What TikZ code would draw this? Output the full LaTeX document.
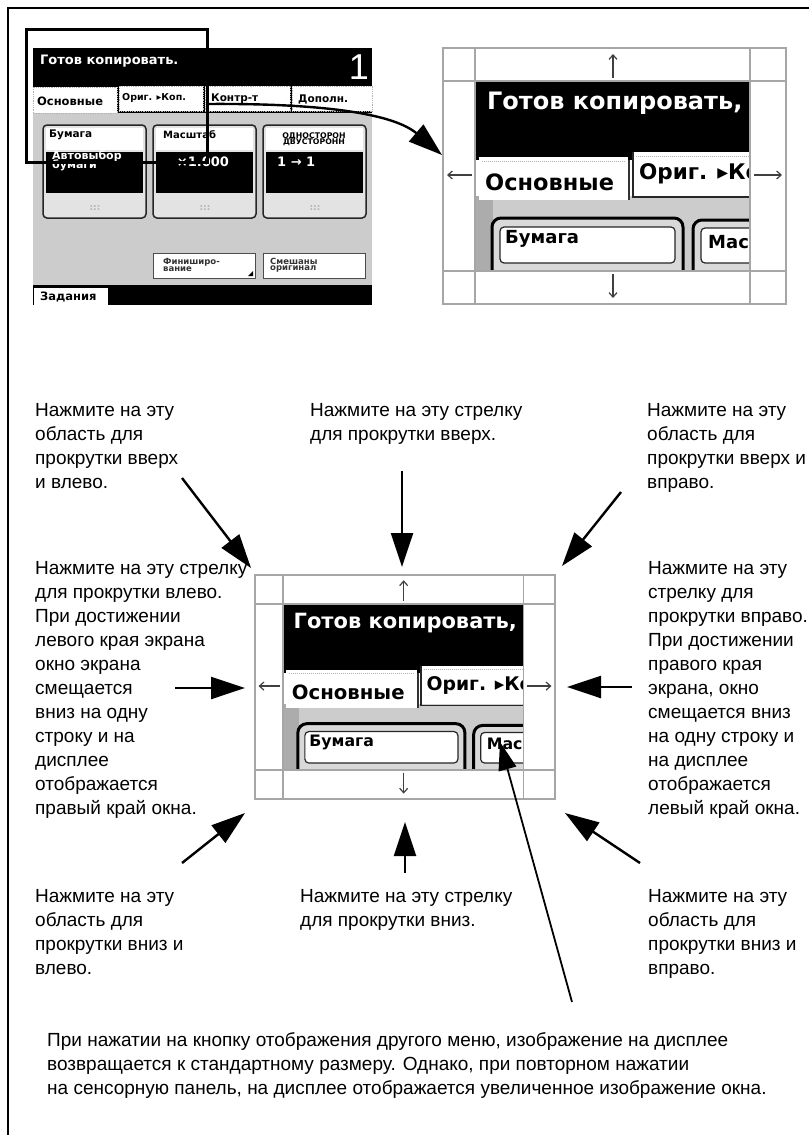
\documentclass[tikz,border=0pt]{standalone}
\usepackage{fontspec}
\setmainfont{Liberation Sans}
\newfontfamily\scrfont{DejaVu Sans}
\usetikzlibrary{arrows.meta}
\newcommand\scrsize[1]{\scrfont\bfseries\fontsize{#1}{#1}\selectfont}
\tikzset{
  ptr/.style={line width=2.4pt, -{Triangle[length=34pt,width=22pt]}},
  lbl/.style={anchor=base west, align=left, inner sep=0pt, font=\fontsize{19}{24}\selectfont},
  gridline/.style={draw=gray!70, line width=1.3pt},
  thinarr/.style={draw=black!75, line width=1.2pt, -{Straight Barb[length=4.5pt,width=8pt]}},
  scr/.style={inner sep=0pt, anchor=west},
  dotline/.style={draw=gray!60, densely dotted, line width=1pt},
  tabbox/.style={fill=white, draw=gray!60, densely dotted, line width=0.8pt},
  panel/.style={draw=black!85, line width=1.5pt, rounded corners=4pt, fill=gray!22},
  btn/.style={fill=white, draw=black!70, line width=1pt},
}
% enlarged window view, local coordinates 343 x 256
\newcommand\zoomview[1]{%
  \fill[white] (0,0) rectangle (343,256);
  \begin{scope}
    \clip (32,33) rectangle (307,223);
    \fill[black] (32,33) rectangle (307,112);
    \fill[gray!40] (32,148) rectangle (307,223);
    \fill[gray!65] (32,148) rectangle (50,223);
    \fill[white] (190,104) rectangle (310,148);
    \draw[dotline] (193,108) -- (310,108);
    \draw[black!85, line width=1.6pt] (190,104) -- (190,149) -- (310,149);
    \node[scr, font=\scrsize{21.5}] (#1-tab2) at (196,126) {Ориг. ▸Коп.};
    \fill[white] (36,109) rectangle (185,152);
    \draw[dotline] (39,113) -- (182,113);
    \draw[black!80, line width=2.2pt] (186,112) -- (186,152);
    \node[scr, font=\scrsize{22.5}] (#1-tab1) at (42,134) {Основные};
    \draw[black, line width=3pt, rounded corners=9pt, fill=gray!30] (49,170) rectangle (240,260);
    \draw[black!85, line width=1.2pt, rounded corners=4pt, fill=white] (57,179) rectangle (232,215);
    \node[scr, font=\scrsize{18}] (#1-p1) at (62,191) {Бумага};
    \draw[black, line width=3pt, rounded corners=9pt, fill=gray!30] (250,172) rectangle (340,260);
    \draw[black!85, line width=1.2pt, rounded corners=4pt, fill=white] (258,180) rectangle (335,215);
    \node[scr, font=\scrsize{18}] (#1-p2) at (265,193) {Масштаб};
    \node[scr, white, font=\scrsize{24}] (#1-hdr) at (44,55) {Готов копировать,};
  \end{scope}
  \draw[gridline] (0,0) rectangle (343,256);
  \draw[gridline] (32,0) -- (32,256) (307,0) -- (307,256) (0,33) -- (343,33) (0,223) -- (343,223);
  \draw[thinarr] (170,30) -- (170,6);
  \draw[thinarr] (170,226) -- (170,250);
  \draw[thinarr] (29,127) -- (4,127);
  \draw[thinarr] (311,127) -- (339,127);
}
\begin{document}
\begin{tikzpicture}[x=1pt, y=-1pt]
\useasboundingbox (0,0) rectangle (809,1135);
% frame
\draw[line width=2.5pt] (809,8) -- (8,8) -- (8,1135);

% ---- screenshot of the panel ----
\fill[gray!40] (33,48) rectangle (372,305);
\fill[black] (33,48) rectangle (372,113);
\node[scr, white, font=\scrsize{13}] (s-hdr) at (40,61) {Готов копировать.};
\node[inner sep=0pt, white, font=\fontsize{36}{36}\selectfont] (s-one) at (359,67) {1};
\draw[tabbox] (33,87) rectangle (117,113);
\node[scr, font=\scrsize{11.5}] (s-tab1) at (37,101) {Основные};
\draw[tabbox] (119,86) rectangle (203,111);
\node[scr, font=\scrsize{9.5}] (s-tab2) at (122,98) {Ориг. ▸Коп.};
\draw[tabbox] (205,86) rectangle (290,111);
\node[scr, font=\scrsize{10.5}] (s-tab3) at (211,99) {Контр-т};
\draw[tabbox] (292,86) rectangle (372,111);
\node[scr, font=\scrsize{10.5}] (s-tab4) at (298,99) {Дополн.};
\foreach \x/\n in {43/a,153/b,263/c} {
  \draw[panel] (\x,125) rectangle ++(103,93);
  \fill[white] (\x+3,128) rectangle ++(97,22);
  \fill[black] (\x+3,152) rectangle ++(97,41);
  \node[gray!60, font=\scrsize{9}] (s-dots-\n) at (\x+52,208) {:::};
}
\node[scr, font=\scrsize{10.5}] (s-p1) at (49,135) {Бумага};
\node[scr, font=\scrsize{10}] (s-p2) at (163,135) {Масштаб};
\node[inner sep=0pt, font=\scrsize{7.8}, align=center] (s-p3) at (314,139) {ОДНОСТОРОН\\[-1.5pt]ДВУСТОРОНН};
\node[scr, white, font=\scrsize{11}, align=left] (s-v1) at (52,161) {Автовыбор\\[-2.5pt]бумаги};
\node[inner sep=0pt, white, font=\scrsize{13}] (s-v2) at (203,162) {×1.000};
\node[scr, white, font=\scrsize{13}] (s-v3) at (277,162) {1 → 1};
\draw[btn] (153,253) rectangle (255,278);
\node[scr, font=\scrsize{8.5}, align=left, text=black!80] (s-b1) at (163,265) {Финиширо-\\[-2pt]вание};
\fill[black] (248,276) -- (253,271) -- (253,276) -- cycle;
\draw[btn] (263,253) rectangle (365,278);
\node[scr, font=\scrsize{8.5}, align=left, text=black!80] (s-b2) at (270,265) {Смешаны\\[-2pt]оригинал};
\fill[black] (33,285) rectangle (372,305);
\fill[white] (34,288) rectangle (108,305);
\node[scr, font=\scrsize{11.5}] (s-jobs) at (40,297) {Задания};
% selection rectangle
\node[draw, line width=3pt, inner sep=0pt, minimum width=181pt, minimum height=133pt, anchor=north west] (sel) at (25,28) {};

% ---- enlarged view top right ----
\begin{scope}[shift={(443,48)}]
  \zoomview{tr}
\end{scope}
\node[inner sep=0pt, minimum width=343pt, minimum height=256pt, anchor=north west] (zv) at (443,48) {};
\coordinate (selout) at (206,104);
\coordinate (zvin) at (442,155);
\draw[ptr] (selout) .. controls (330,103) and (395,115) .. (zvin);

% ---- enlarged view centre ----
\begin{scope}[shift={(255,575)}, scale=0.8746, transform shape]
  \zoomview{cv}
\end{scope}
\node[inner sep=0pt, minimum width=300pt, minimum height=225pt, anchor=north west] (cv) at (255,575) {};

% ---- labels (anchor = baseline of the last line) ----
\node[lbl] (t-ul) at (35,488) {Нажмите на эту\\область для\\прокрутки вверх\\и влево.};
\node[lbl] (t-u) at (310,440) {Нажмите на эту стрелку\\для прокрутки вверх.};
\node[lbl] (t-ur) at (647,488) {Нажмите на эту\\область для\\прокрутки вверх и\\вправо.};
\node[lbl] (t-l) at (35,814) {Нажмите на эту стрелку\\для прокрутки влево.\\При достижении\\левого края экрана\\окно экрана\\смещается\\вниз на одну\\строку и на\\дисплее\\отображается\\правый край окна.};
\node[lbl] (t-r) at (648,814) {Нажмите на эту\\стрелку для\\прокрутки вправо.\\При достижении\\правого края\\экрана, окно\\смещается вниз\\на одну строку и\\на дисплее\\отображается\\левый край окна.};
\node[lbl] (t-dl) at (35,974) {Нажмите на эту\\область для\\прокрутки вниз и\\влево.};
\node[lbl] (t-d) at (300,926) {Нажмите на эту стрелку\\для прокрутки вниз.};
\node[lbl] (t-dr) at (648,974) {Нажмите на эту\\область для\\прокрутки вниз и\\вправо.};
\node[lbl] (t-note) at (47,1094) {При нажатии на кнопку отображения другого меню, изображение на дисплее\\возвращается к стандартному размеру. Однако, при повторном нажатии\\на сенсорную панель, на дисплее отображается увеличенное изображение окна.};

% ---- pointer arrows ----
\coordinate (a-ul) at (182,478); \coordinate (h-ul) at (251,568);
\coordinate (a-u) at (402,471);  \coordinate (h-u) at (402,567);
\coordinate (a-ur) at (621,492); \coordinate (h-ur) at (562,566);
\coordinate (a-l) at (175,688);  \coordinate (h-l) at (245,688);
\coordinate (a-r) at (632,687);  \coordinate (h-r) at (567,687);
\coordinate (a-dl) at (182,863); \coordinate (h-dl) at (245,813);
\coordinate (a-d) at (405,873);  \coordinate (h-d) at (405,822);
\coordinate (a-dr) at (640,863); \coordinate (h-dr) at (565,813);
\coordinate (a-n) at (572,1002); \coordinate (h-n) at (500,742);
\foreach \k in {ul,u,ur,l,r,dl,d,dr} { \draw[ptr] (a-\k) -- (h-\k); }
\draw[line width=1.8pt, -{Triangle[length=28pt,width=18pt]}] (a-n) -- (h-n);
\end{tikzpicture}
\end{document}
